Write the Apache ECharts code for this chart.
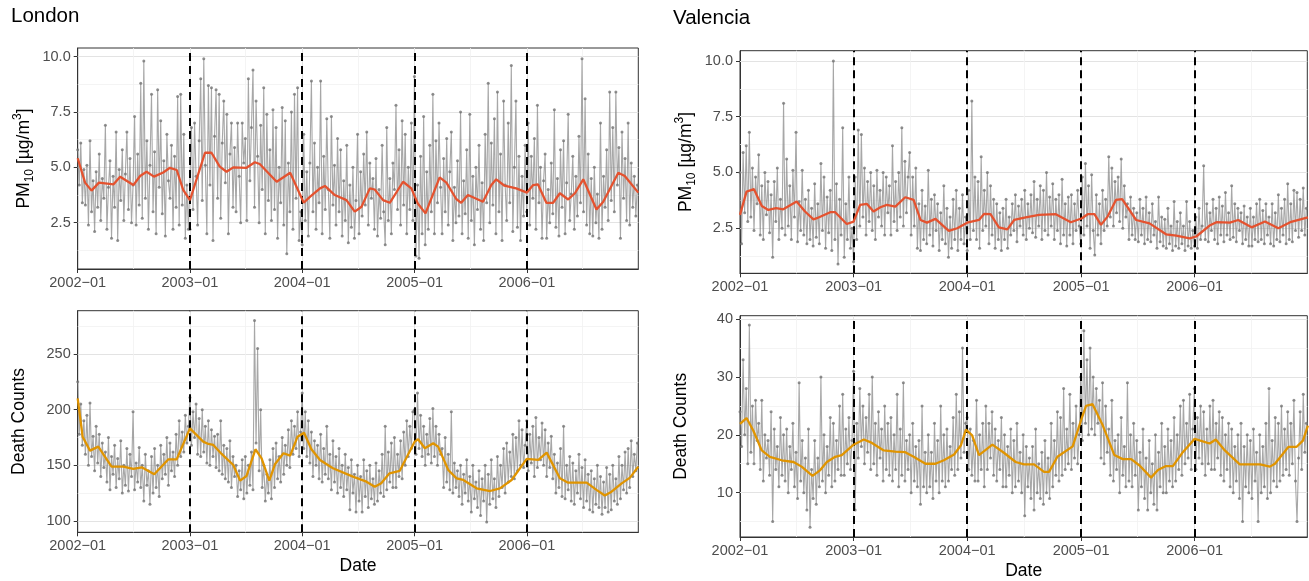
<!DOCTYPE html>
<html>
<head>
<meta charset="utf-8">
<title>PM10 and death counts, London and Valencia</title>
<script src="https://cdn.jsdelivr.net/npm/echarts@6.0.0/dist/echarts.min.js"></script>
<style>
    html, body { margin: 0; padding: 0; background: #fff; }
    #main { width: 1309px; height: 581px; }
</style>
</head>
<body>
<div id="main"></div>
<script>
// grey series: one value every 5 days from 2002-01-01 (73 per year, one row ~ one month)
var londonPm = [
    5.8, 4.2, 6.1, 3.4, 4.9, 3.3,
    5.1, 2.4, 6.2, 3.0, 4.4, 2.1,
    4.8, 3.2, 5.6, 2.6, 4.5, 3.6,
    6.9, 2.2, 4.1, 5.3, 1.8, 4.6,
    3.2, 6.6, 1.7, 4.9, 3.5, 5.8,
    2.6, 4.7, 6.6, 3.1, 5.4, 2.5,
    4.2, 7.3, 2.4, 5.6, 3.3, 8.8,
    2.7, 9.8, 3.6, 6.2, 2.2, 5.1,
    8.3, 3.0, 5.7, 2.0, 8.5, 4.1,
    7.1, 2.9, 5.3, 1.9, 6.5, 4.4,
    3.6, 6.0, 2.2, 5.5, 3.2, 8.2,
    2.4, 8.3, 3.3, 6.5, 1.8, 4.2, 2.2,
    // 2003
    2.2, 6.8, 3.1, 7.0, 4.6, 2.4,
    6.2, 9.0, 3.5, 9.9, 5.1, 2.0,
    8.7, 4.2, 8.6, 1.7, 6.4, 8.5,
    3.6, 8.3, 2.7, 6.1, 8.0, 4.3,
    7.4, 2.0, 5.6, 7.0, 3.2, 5.9,
    3.0, 7.0, 4.6, 2.5, 7.0, 5.2,
    6.3, 2.6, 9.0, 4.4, 6.8, 9.4,
    3.2, 8.0, 5.5, 2.5, 6.9, 4.0,
    8.6, 2.0, 7.4, 3.5, 5.8, 2.6,
    7.6, 3.1, 6.8, 1.8, 5.0, 3.4,
    7.7, 2.4, 7.1, 1.1, 5.2, 3.0,
    7.5, 2.2, 8.3, 3.6, 8.6, 1.7, 3.0,
    // 2004
    1.5, 6.5, 2.6, 4.8, 1.9, 5.2,
    8.9, 3.0, 6.1, 2.2, 5.0, 3.4,
    8.9, 2.0, 5.5, 3.1, 7.2, 4.0,
    1.8, 7.3, 3.3, 5.1, 2.4, 6.3,
    3.0, 5.8, 1.9, 4.4, 2.6, 6.0,
    1.6, 4.2, 2.3, 5.0, 1.8, 3.5,
    6.5, 2.0, 4.8, 2.8, 5.6, 3.3,
    6.6, 2.4, 5.2, 3.6, 4.5, 2.2,
    5.4, 1.9, 4.0, 2.7, 6.0, 3.0,
    1.5, 6.8, 2.6, 4.5, 2.0, 5.2,
    4.0, 7.8, 3.1, 5.8, 2.4, 7.1,
    3.3, 6.5, 2.0, 5.0, 3.1, 7.0, 2.6,
    // 2005
    9.1, 1.0, 4.2, 0.9, 5.5, 2.0,
    7.3, 1.5, 4.8, 2.2, 6.0, 3.0,
    8.3, 2.0, 6.2, 3.4, 7.0, 4.1,
    2.0, 5.4, 3.0, 6.3, 2.4, 4.8,
    6.6, 1.7, 4.1, 2.5, 5.3, 2.8,
    7.5, 2.0, 4.4, 2.9, 5.8, 1.8,
    7.4, 2.6, 4.6, 1.5, 5.0, 3.1,
    6.0, 2.2, 4.3, 1.7, 6.5, 3.4,
    8.8, 2.5, 6.1, 3.3, 7.2, 2.0,
    8.4, 3.0, 5.6, 1.7, 8.0, 4.2,
    2.6, 7.0, 3.4, 9.6, 2.1, 5.0,
    8.0, 2.3, 5.5, 1.7, 4.6, 2.8, 6.0,
    // 2006
    3.0, 7.0, 2.4, 5.5, 3.6, 6.3,
    2.2, 7.8, 3.4, 5.0, 1.8, 4.4,
    5.6, 1.8, 4.0, 2.5, 5.2, 2.9,
    7.6, 2.3, 4.5, 1.9, 5.8, 3.2,
    6.2, 2.0, 4.3, 7.4, 2.6, 3.8,
    5.5, 2.2, 4.6, 2.8, 6.4, 3.4,
    9.9, 3.0, 8.1, 2.4, 5.6, 2.0,
    4.5, 1.9, 5.0, 2.5, 3.8, 1.8,
    7.0, 2.2, 4.6, 3.2, 5.8, 2.6,
    8.4, 3.5, 6.8, 3.0, 8.4, 4.2,
    5.9, 1.8, 6.6, 3.6, 5.4, 2.6,
    7.0, 2.4, 5.2, 3.2, 4.6, 2.8, 4.2
];

var londonDeaths = [
    225, 178, 205, 168, 190, 160,
    195, 150, 206, 158, 176, 145,
    185, 152, 178, 140, 170, 148,
    162, 135, 175, 128, 158, 142,
    168, 130, 156, 138, 172, 125,
    150, 132, 165, 127, 160, 140,
    198, 128, 152, 135, 166, 130,
    150, 118, 160, 132, 145, 115,
    158, 125, 165, 130, 150, 122,
    168, 138, 160, 142, 175, 132,
    170, 145, 162, 140, 178, 150,
    190, 158, 180, 162, 195, 170, 185,
    // 2003
    211, 168, 198, 175, 205, 160,
    192, 158, 200, 162, 185, 152,
    190, 150, 182, 158, 176, 148,
    178, 145, 190, 142, 168, 138,
    165, 135, 172, 130, 158, 140,
    150, 122, 145, 128, 155, 120,
    158, 125, 150, 132, 162, 128,
    280, 170, 255, 145, 200, 130,
    150, 118, 142, 125, 155, 120,
    165, 130, 170, 138, 158, 135,
    175, 142, 168, 150, 182, 148,
    190, 160, 185, 165, 198, 158, 180,
    // 2004
    215, 165, 198, 158, 190, 152,
    180, 140, 172, 150, 168, 138,
    178, 135, 165, 142, 185, 138,
    160, 128, 172, 135, 158, 125,
    165, 130, 150, 122, 160, 128,
    148, 110, 155, 125, 142, 108,
    150, 118, 140, 108, 155, 122,
    145, 112, 150, 120, 138, 115,
    152, 118, 145, 125, 160, 122,
    185, 128, 162, 135, 170, 130,
    175, 130, 160, 140, 172, 138,
    180, 150, 190, 158, 185, 165, 198,
    // 2005
    200, 160, 215, 165, 195, 158,
    185, 150, 178, 160, 192, 152,
    201, 158, 185, 150, 178, 160,
    165, 130, 175, 135, 160, 128,
    198, 125, 152, 130, 145, 122,
    150, 115, 142, 125, 155, 118,
    140, 108, 150, 120, 135, 112,
    145, 105, 138, 118, 150, 99,
    142, 115, 155, 120, 138, 112,
    158, 122, 150, 130, 165, 125,
    170, 135, 162, 140, 178, 138,
    175, 145, 190, 150, 182, 148, 168,
    // 2006
    190, 145, 178, 152, 185, 140,
    193, 148, 175, 155, 188, 150,
    182, 140, 170, 148, 176, 138,
    160, 125, 152, 130, 165, 122,
    185, 120, 150, 128, 158, 118,
    152, 115, 145, 125, 160, 120,
    148, 112, 155, 118, 142, 110,
    145, 108, 138, 115, 150, 112,
    140, 106, 135, 112, 148, 108,
    142, 110, 150, 118, 138, 115,
    158, 120, 150, 128, 162, 125,
    165, 130, 172, 140, 160, 145, 170
];

var valenciaPm = [
    5.0, 1.8, 5.9, 3.2, 6.2, 2.8,
    6.8, 3.0, 5.2, 2.4, 4.8, 3.6,
    5.8, 2.2, 4.4, 2.0, 5.0, 3.1,
    4.6, 2.3, 4.0, 1.2, 4.6, 2.8,
    5.2, 2.0, 3.8, 2.5, 8.1, 2.2,
    5.6, 2.6, 4.4, 2.0, 5.1, 3.0,
    6.8, 1.9, 3.7, 2.4, 5.1, 2.2,
    3.8, 1.8, 4.2, 2.0, 3.4, 1.7,
    4.5, 2.1, 3.6, 1.8, 5.4, 2.4,
    4.8, 1.6, 3.9, 2.3, 4.2, 1.5,
    10.0, 2.0, 4.5, 0.9, 3.8, 2.2,
    7.0, 1.2, 3.6, 2.0, 4.8, 1.6, 2.5,
    // 2003
    1.0, 4.8, 2.0, 6.9, 2.6, 6.7,
    3.0, 5.2, 2.2, 4.6, 2.8, 5.0,
    2.4, 4.4, 2.0, 5.1, 3.0, 4.2,
    2.6, 5.0, 2.2, 4.8, 3.2, 4.4,
    2.2, 6.2, 2.8, 4.6, 2.4, 5.0,
    3.0, 7.0, 2.6, 5.5, 3.2, 4.8,
    5.9, 2.2, 4.8, 2.6, 5.2, 1.6,
    3.6, 1.5, 4.2, 2.0, 3.5, 1.8,
    5.1, 2.2, 3.8, 1.7, 4.0, 2.4,
    3.6, 1.5, 3.2, 2.0, 4.4, 1.8,
    3.4, 1.2, 3.0, 1.6, 3.8, 2.0,
    4.2, 1.5, 3.4, 2.0, 4.0, 1.8, 3.0,
    // 2004
    1.5, 4.2, 2.0, 8.2, 2.4, 4.8,
    2.0, 4.6, 1.6, 5.7, 2.4, 4.2,
    2.6, 5.0, 1.8, 4.4, 2.2, 3.8,
    1.6, 3.6, 2.0, 3.2, 1.5, 3.4,
    2.0, 3.8, 1.6, 3.0, 2.2, 3.6,
    2.4, 4.0, 1.9, 3.5, 2.6, 3.8,
    2.2, 4.2, 2.0, 3.6, 2.5, 4.0,
    2.3, 4.6, 2.1, 3.8, 2.6, 4.4,
    2.0, 4.2, 2.4, 5.0, 2.2, 3.9,
    2.6, 4.5, 2.0, 3.8, 2.4, 4.0,
    1.8, 4.7, 2.2, 3.6, 1.7, 3.9,
    2.2, 4.0, 1.8, 3.6, 2.4, 4.2, 2.6,
    // 2005
    1.8, 4.8, 2.2, 5.4, 2.6, 4.4,
    1.6, 4.9, 2.4, 1.3, 4.0, 2.2,
    3.6, 1.8, 4.2, 2.4, 3.8, 2.6,
    5.7, 3.0, 5.2, 2.6, 4.6, 3.2,
    4.8, 2.8, 5.6, 2.5, 4.4, 3.0,
    3.6, 2.0, 3.9, 2.2, 3.4, 2.0,
    3.2, 1.9, 3.8, 2.2, 3.4, 1.8,
    3.9, 2.0, 3.2, 1.9, 3.6, 2.2,
    2.8, 1.6, 3.9, 1.9, 3.0, 1.7,
    2.9, 1.6, 3.4, 1.8, 2.6, 1.5,
    3.7, 1.7, 2.8, 1.6, 3.2, 1.8,
    2.6, 1.5, 3.7, 1.7, 2.8, 1.6, 2.4,
    // 2006
    1.7, 3.0, 1.6, 3.4, 2.0, 2.6,
    5.3, 2.0, 3.6, 1.9, 3.2, 2.4,
    3.8, 2.0, 3.4, 1.8, 3.9, 2.2,
    3.5, 1.9, 4.1, 2.2, 3.2, 2.0,
    4.4, 2.1, 3.6, 1.9, 3.4, 2.4,
    3.2, 1.8, 3.5, 2.0, 3.0, 1.7,
    3.4, 1.7, 3.0, 2.0, 3.6, 1.9,
    3.8, 2.0, 3.3, 1.8, 3.6, 2.2,
    3.0, 1.8, 3.6, 1.7, 3.2, 2.0,
    4.0, 1.9, 3.4, 2.2, 3.8, 1.8,
    4.5, 2.0, 3.6, 1.9, 4.2, 2.4,
    4.1, 2.1, 3.8, 2.4, 4.3, 2.2, 3.4
];

var valenciaDeaths = [
    24, 18, 33, 20, 28, 15,
    39, 17, 25, 15, 26, 19,
    22, 14, 26, 12, 20, 16,
    19, 13, 24, 5, 21, 14,
    18, 11, 23, 13, 20, 12,
    21, 10, 18, 14, 22, 11,
    17, 9, 29, 12, 19, 10,
    16, 7, 21, 4, 14, 9,
    19, 8, 16, 11, 30, 12,
    20, 10, 18, 13, 23, 11,
    22, 12, 19, 14, 25, 13,
    27, 13, 21, 15, 23, 14, 19,
    // 2003
    31, 7, 22, 16, 28, 18,
    25, 15, 23, 17, 27, 14,
    30, 15, 22, 13, 24, 16,
    21, 12, 25, 14, 22, 13,
    23, 12, 20, 14, 27, 11,
    21, 13, 29, 12, 19, 14,
    20, 10, 22, 12, 18, 11,
    19, 8, 25, 11, 17, 10,
    20, 11, 17, 9, 22, 12,
    19, 10, 25, 12, 20, 11,
    21, 12, 18, 14, 23, 13,
    27, 14, 24, 16, 35, 17, 22,
    // 2004
    23, 14, 21, 13, 19, 12,
    26, 12, 20, 14, 22, 11,
    25, 14, 22, 16, 24, 13,
    21, 12, 19, 14, 23, 11,
    20, 11, 18, 13, 21, 10,
    19, 11, 22, 12, 17, 10,
    20, 6, 18, 11, 16, 9,
    18, 7, 21, 10, 15, 9,
    17, 8, 19, 10, 16, 9,
    22, 11, 19, 13, 24, 12,
    23, 13, 28, 14, 21, 15,
    27, 14, 22, 16, 25, 15, 20,
    // 2005
    30, 19, 38, 22, 33, 20,
    35, 21, 30, 20, 28, 22,
    26, 16, 29, 15, 25, 17,
    21, 13, 26, 12, 19, 14,
    20, 10, 23, 13, 18, 11,
    29, 12, 20, 11, 22, 13,
    19, 7, 17, 11, 21, 9,
    16, 7, 19, 10, 15, 8,
    20, 7, 17, 11, 22, 10,
    18, 10, 21, 12, 19, 11,
    23, 12, 20, 14, 25, 13,
    26, 15, 22, 16, 27, 14, 21,
    // 2006
    28, 14, 23, 16, 25, 15,
    24, 13, 21, 15, 25, 14,
    26, 14, 22, 16, 24, 13,
    23, 12, 20, 14, 22, 11,
    21, 10, 18, 12, 20, 9,
    22, 5, 18, 11, 20, 10,
    19, 9, 21, 12, 17, 5,
    20, 10, 18, 11, 22, 9,
    28, 10, 19, 12, 23, 11,
    22, 12, 25, 13, 21, 14,
    24, 13, 22, 15, 26, 12,
    5, 16, 24, 14, 27, 17, 22
];

// smoothed curves
var londonPmSmoothDates = ['2002-01-01', '2002-01-25', '2002-02-15', '2002-03-11', '2002-04-27', '2002-05-19',
    '2002-07-01', '2002-07-23', '2002-08-13', '2002-09-06', '2002-10-06', '2002-10-28', '2002-11-19',
    '2002-12-10', '2003-01-01', '2003-02-19', '2003-03-12', '2003-04-08', '2003-04-30', '2003-05-22',
    '2003-07-04', '2003-07-31', '2003-08-16', '2003-10-10', '2003-11-23', '2004-01-06', '2004-01-26',
    '2004-02-28', '2004-03-15', '2004-04-16', '2004-05-24', '2004-06-20', '2004-07-12', '2004-08-08',
    '2004-08-24', '2004-09-20', '2004-10-12', '2004-11-24', '2004-12-21', '2005-01-11', '2005-02-05',
    '2005-03-23', '2005-04-14', '2005-05-16', '2005-06-01', '2005-06-23', '2005-08-11', '2005-09-07',
    '2005-09-23', '2005-10-20', '2005-11-27', '2006-01-01', '2006-01-21', '2006-02-06', '2006-03-05',
    '2006-03-27', '2006-04-18', '2006-05-15', '2006-06-06', '2006-07-03', '2006-08-15', '2006-09-06',
    '2006-10-25', '2006-11-15', '2006-12-29'];
var londonPmSmooth = [5.41, 4.31, 3.95, 4.31, 4.23, 4.58,
    4.20, 4.61, 4.80, 4.58, 4.77, 4.98, 4.88,
    3.98, 3.52, 5.66, 5.66, 5.03, 4.80, 5.00,
    4.98, 5.23, 5.15, 4.35, 4.76, 3.40, 3.67,
    4.05, 4.16, 3.75, 3.52, 3.00, 3.22, 4.05,
    4.00, 3.52, 3.40, 4.35, 4.05, 3.37, 2.92,
    4.55, 4.31, 3.57, 3.40, 3.75, 3.45, 4.20,
    4.46, 4.17, 4.05, 3.86, 4.20, 4.23, 3.40,
    3.40, 3.83, 3.55, 3.83, 4.46, 3.10, 3.45,
    4.76, 4.61, 3.86];

var londonDeathsSmoothDates = ['2002-01-01', '2002-01-17', '2002-02-10', '2002-03-09', '2002-04-21', '2002-05-29',
    '2002-07-01', '2002-07-28', '2002-09-07', '2002-10-23', '2002-11-19', '2003-01-01', '2003-02-13',
    '2003-03-02', '2003-03-18', '2003-04-14', '2003-05-22', '2003-06-13', '2003-07-04', '2003-08-02',
    '2003-08-22', '2003-09-16', '2003-10-05', '2003-11-01', '2003-11-23', '2003-12-17', '2004-01-07',
    '2004-01-31', '2004-02-28', '2004-04-10', '2004-06-14', '2004-07-28', '2004-08-24', '2004-09-14',
    '2004-10-11', '2004-11-13', '2005-01-01', '2005-01-12', '2005-02-03', '2005-03-02', '2005-03-18',
    '2005-04-20', '2005-05-17', '2005-06-08', '2005-07-21', '2005-09-03', '2005-10-05', '2005-11-12',
    '2005-12-31', '2006-02-07', '2006-03-06', '2006-04-18', '2006-05-15', '2006-07-14', '2006-08-15',
    '2006-09-11', '2006-10-03', '2006-11-05', '2006-12-02', '2006-12-29'];
var londonDeathsSmooth = [210.2, 175.7, 163.2, 166.8, 148.8, 148.8,
    146.7, 148.2, 141.9, 155.4, 155.4, 183.2, 171.3,
    169.2, 168.3, 160.2, 150.3, 136.2, 140.4, 164.4,
    156.3, 136.2, 151.2, 160.8, 158.7, 175.7, 179.3,
    164.4, 154.8, 147.3, 139.8, 135.3, 130.8, 133.8,
    142.8, 144.9, 171.3, 173.4, 165.3, 169.8, 166.8,
    145.8, 138.3, 136.8, 129.3, 126.9, 129.3, 136.8,
    155.7, 154.8, 161.4, 138.3, 134.4, 134.4, 127.9,
    122.8, 126.3, 133.8, 138.9, 148.8];

var valenciaPmSmoothDates = ['2002-01-01', '2002-01-22', '2002-02-15', '2002-03-12', '2002-04-02', '2002-04-27',
    '2002-05-20', '2002-07-02', '2002-07-29', '2002-08-25', '2002-09-05', '2002-10-18', '2002-11-03',
    '2002-12-10', '2003-01-01', '2003-01-22', '2003-02-13', '2003-03-06', '2003-03-28', '2003-04-18',
    '2003-05-15', '2003-06-16', '2003-07-13', '2003-08-04', '2003-08-25', '2003-09-21', '2003-11-03',
    '2003-11-30', '2004-01-01', '2004-02-08', '2004-02-24', '2004-03-16', '2004-04-12', '2004-05-09',
    '2004-05-31', '2004-07-07', '2004-08-19', '2004-10-12', '2004-11-29', '2005-01-04', '2005-01-22',
    '2005-02-13', '2005-03-06', '2005-03-27', '2005-04-23', '2005-05-13', '2005-06-27', '2005-08-09',
    '2005-10-01', '2005-11-03', '2005-12-16', '2006-01-06', '2006-02-18', '2006-03-12', '2006-04-24',
    '2006-05-21', '2006-07-03', '2006-08-15', '2006-09-27', '2006-11-04', '2006-12-31'];
var valenciaPmSmooth = [3.10, 4.14, 4.25, 3.50, 3.32, 3.40,
    3.35, 3.70, 3.25, 2.90, 2.95, 3.22, 3.22,
    2.69, 2.80, 3.55, 3.59, 3.25, 3.44, 3.55,
    3.47, 3.89, 3.77, 2.87, 2.75, 2.92, 2.38,
    2.50, 2.75, 2.87, 3.14, 3.13, 2.54, 2.45,
    2.87, 2.99, 3.10, 3.13, 2.77, 2.95, 3.13,
    3.13, 2.65, 3.02, 3.77, 3.81, 2.87, 2.72,
    2.23, 2.17, 2.05, 2.13, 2.62, 2.77, 2.75,
    2.87, 2.54, 2.80, 2.50, 2.77, 2.99];

var valenciaDeathsSmoothDates = ['2002-01-01', '2002-01-22', '2002-02-13', '2002-03-12', '2002-04-07', '2002-05-15',
    '2002-06-22', '2002-07-18', '2002-08-22', '2002-09-16', '2002-10-07', '2002-11-03', '2002-11-24',
    '2003-01-01', '2003-02-03', '2003-03-01', '2003-04-08', '2003-05-15', '2003-06-16', '2003-07-13',
    '2003-08-20', '2003-09-21', '2003-10-18', '2003-11-20', '2003-12-12', '2003-12-28', '2004-01-17',
    '2004-02-08', '2004-02-13', '2004-03-22', '2004-04-28', '2004-06-05', '2004-07-02', '2004-08-03',
    '2004-09-04', '2004-09-20', '2004-10-17', '2004-12-05', '2005-01-04', '2005-01-17', '2005-02-07',
    '2005-03-12', '2005-04-18', '2005-05-15', '2005-06-11', '2005-07-08', '2005-08-14', '2005-09-05',
    '2005-10-01', '2005-10-23', '2005-11-24', '2006-01-01', '2006-02-18', '2006-03-10', '2006-04-08',
    '2006-05-26', '2006-07-30', '2006-08-31', '2006-09-16', '2006-10-29', '2006-11-24', '2006-12-15',
    '2006-12-31'];
var valenciaDeathsSmooth = [21.9, 22.9, 20.7, 17.3, 16.2, 15.6,
    15.3, 14.5, 12.9, 13.9, 15.3, 16.2, 16.5,
    18.3, 19.2, 18.6, 17.3, 17.1, 17.0, 16.2,
    15.0, 15.0, 15.6, 16.6, 18.2, 20.9, 19.9,
    16.5, 16.7, 18.3, 16.9, 15.3, 14.9, 14.9,
    13.6, 13.6, 16.2, 18.0, 23.0, 25.0, 25.3,
    21.6, 16.5, 15.8, 15.8, 14.7, 12.6, 13.9,
    14.6, 14.6, 17.0, 19.3, 18.5, 19.2, 17.3,
    14.9, 14.9, 14.5, 15.0, 17.9, 17.9, 19.0,
    21.6];

// axis breaks
var yearLabels = [2002, 2003, 2004, 2005, 2006];
var dashedYears = [2003, 2004, 2005, 2006];
var pmMajor = [2.5, 5.0, 7.5, 10.0];
var pmMinor = [1.25, 3.75, 6.25, 8.75];
var londonDeathMajor = [100, 150, 200, 250];
var londonDeathMinor = [125, 175, 225, 275];
var valenciaDeathMajor = [10, 20, 30, 40];
var valenciaDeathMinor = [5, 15, 25, 35];

var DAY = 86400000;
var T0 = Date.UTC(2002, 0, 1);
var T1 = Date.UTC(2006, 11, 29);
var FONT = '"Liberation Sans", Arial, sans-serif';

function everyFiveDays(values) {
    return values.map(function (v, i) { return [T0 + i * 5 * DAY, v]; });
}
function dated(dates, values) {
    return dates.map(function (d, i) { return [Date.parse(d), values[i]]; });
}
function yearStart(y) { return Date.UTC(y, 0, 1); }
function midYear(y) { return Date.UTC(y, 6, 1); }

var chart = echarts.init(document.getElementById('main'), null, {renderer: 'canvas'});

var panels = [
    {grid: {left: 77.7, top: 48, width: 560.6, height: 221}, min: 0.41, max: 10.39,
        raw: londonPm, sd: londonPmSmoothDates, sv: londonPmSmooth, color: '#E4522F',
        major: pmMajor, minor: pmMinor, pm: true, dateTitle: false},
    {grid: {left: 77.7, top: 310.7, width: 560.6, height: 221.6}, min: 89.8, max: 288.9,
        raw: londonDeaths, sd: londonDeathsSmoothDates, sv: londonDeathsSmooth, color: '#E09400',
        major: londonDeathMajor, minor: londonDeathMinor, pm: false, dateTitle: true},
    {grid: {left: 740, top: 50.7, width: 567.3, height: 222.6}, min: 0.48, max: 10.46,
        raw: valenciaPm, sd: valenciaPmSmoothDates, sv: valenciaPmSmooth, color: '#E4522F',
        major: pmMajor, minor: pmMinor, pm: true, dateTitle: false},
    {grid: {left: 740, top: 315.7, width: 567.3, height: 223.3}, min: 2.33, max: 40.6,
        raw: valenciaDeaths, sd: valenciaDeathsSmoothDates, sv: valenciaDeathsSmooth, color: '#E09400',
        major: valenciaDeathMajor, minor: valenciaDeathMinor, pm: false, dateTitle: true}
];

var grids = [], xAxes = [], yAxes = [], series = [];

panels.forEach(function (p, i) {
    grids.push(Object.assign({}, p.grid, {show: true, backgroundColor: '#fff', borderColor: '#333', borderWidth: 1}));

    xAxes.push({
        type: 'value', gridIndex: i, min: T0, max: T1,
        axisLine: {show: true, lineStyle: {color: '#333', width: 1}},
        axisTick: {show: true, length: 4, customValues: yearLabels.map(yearStart), lineStyle: {color: '#333'}},
        axisLabel: {
            show: true, customValues: yearLabels.map(yearStart), margin: 6,
            fontSize: 14.5, color: '#4d4d4d', fontFamily: FONT,
            formatter: function (v) { return new Date(v).getUTCFullYear() + '\u221201'; }
        },
        splitLine: {show: false},
        name: p.dateTitle ? 'Date' : '', nameLocation: 'middle', nameGap: 25,
        nameTextStyle: {fontSize: 17.5, color: '#000', fontFamily: FONT}
    });

    yAxes.push({
        type: 'value', gridIndex: i, min: p.min, max: p.max,
        axisLine: {show: true, lineStyle: {color: '#333', width: 1}},
        axisTick: {show: true, length: 4, customValues: p.major, lineStyle: {color: '#333'}},
        axisLabel: {
            show: true, customValues: p.major, margin: 7,
            fontSize: 14.5, color: '#4d4d4d', fontFamily: FONT,
            formatter: function (v) { return p.pm ? v.toFixed(1) : String(v); }
        },
        splitLine: {show: false},
        name: p.pm ? '{m|PM}{s|10}{m| [\u00b5g/m}{p|3}{m|]}' : 'Death Counts',
        nameLocation: 'middle', nameRotate: 90, nameGap: p.pm ? 42 : 50,
        nameTextStyle: {
            fontSize: 17.5, color: '#000', fontFamily: FONT,
            rich: {
                m: {fontSize: 17.5, lineHeight: 24, color: '#000', fontFamily: FONT},
                s: {fontSize: 12, color: '#000', fontFamily: FONT, verticalAlign: 'bottom'},
                p: {fontSize: 12, color: '#000', fontFamily: FONT, verticalAlign: 'top'}
            }
        }
    });

    // gridlines (drawn as marker lines so major/minor can differ)
    var gridLines = [];
    p.major.forEach(function (v) { gridLines.push({yAxis: v, lineStyle: {color: '#e3e3e3', width: 1, type: 'solid'}}); });
    p.minor.forEach(function (v) { gridLines.push({yAxis: v, lineStyle: {color: '#f1f1f1', width: 0.8, type: 'solid'}}); });
    dashedYears.forEach(function (y) { gridLines.push({xAxis: yearStart(y), lineStyle: {color: '#e3e3e3', width: 1, type: 'solid'}}); });
    yearLabels.forEach(function (y) { gridLines.push({xAxis: midYear(y), lineStyle: {color: '#f1f1f1', width: 0.8, type: 'solid'}}); });

    // raw daily-ish observations: grey points joined by thin lines
    series.push({
        type: 'line', xAxisIndex: i, yAxisIndex: i, z: 2, silent: true,
        data: everyFiveDays(p.raw),
        symbol: 'circle', symbolSize: 3, showSymbol: true,
        itemStyle: {color: 'rgba(115,115,115,0.8)'},
        lineStyle: {color: 'rgba(130,130,130,0.7)', width: 1.1},
        markLine: {silent: true, symbol: ['none', 'none'], label: {show: false}, z: 1, animation: false,
            data: gridLines}
    });

    // smoothed trend + year dividers
    series.push({
        type: 'line', xAxisIndex: i, yAxisIndex: i, z: 5, silent: true,
        data: dated(p.sd, p.sv), showSymbol: false,
        lineStyle: {color: p.color, width: 2.3},
        markLine: {silent: true, symbol: ['none', 'none'], label: {show: false}, z: 4, animation: false,
            lineStyle: {color: '#000', width: 2, type: [8, 5]},
            data: dashedYears.map(function (y) { return {xAxis: yearStart(y)}; })}
    });
});

chart.setOption({
    animation: false,
    backgroundColor: '#fff',
    title: [
        {text: 'London', left: 11, top: 6, padding: 0, textStyle: {fontSize: 20.5, fontWeight: 'normal', color: '#000', fontFamily: FONT}},
        {text: 'Valencia', left: 673, top: 8, padding: 0, textStyle: {fontSize: 20.5, fontWeight: 'normal', color: '#000', fontFamily: FONT}}
    ],
    grid: grids,
    xAxis: xAxes,
    yAxis: yAxes,
    series: series
});
</script>
</body>
</html>
